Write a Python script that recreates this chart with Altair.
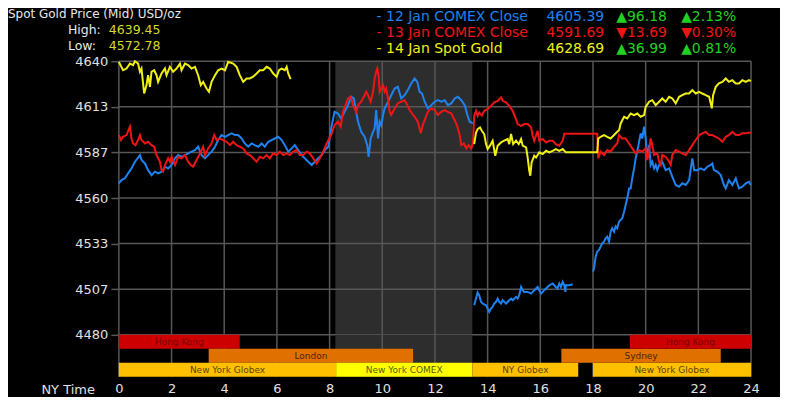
import altair as alt
import pandas as pd

# ---------------- data ----------------
# 12 Jan COMEX Close (blue) - three segments
blue1_t = [0, 0.10, 0.23, 0.35, 0.48, 0.61, 0.71, 0.80, 0.86, 0.99, 1.11, 1.24, 1.37, 1.49, 1.62, 1.75, 1.87, 2.00,
           2.13, 2.25, 2.38, 2.51, 2.63, 2.76, 2.89, 3.01, 3.14, 3.27, 3.39, 3.52, 3.65, 3.77, 3.90, 4.03, 4.15, 4.28,
           4.41, 4.53, 4.66, 4.78, 4.91, 5.04, 5.16, 5.29, 5.42, 5.54, 5.67, 5.80, 5.92, 6.05, 6.18, 6.30, 6.43, 6.56,
           6.68, 6.81, 6.94, 7.06, 7.19, 7.32, 7.44, 7.57, 7.70, 7.82, 7.95,
           8.06, 8.19, 8.32, 8.44, 8.57, 8.70, 8.82, 8.92, 9.01, 9.08, 9.20, 9.33, 9.43, 9.48, 9.56, 9.65, 9.71, 9.77,
           9.84, 9.90, 9.96, 10.03, 10.09, 10.22, 10.34, 10.47, 10.59, 10.72, 10.85, 10.97, 11.10, 11.23, 11.33, 11.42,
           11.51, 11.61, 11.73, 11.86, 11.99, 12.11, 12.24, 12.37, 12.49, 12.62, 12.75, 12.87, 13.00, 13.13, 13.23,
           13.32, 13.44]
blue1_p = [4568.6, 4570.5, 4571.5, 4574.4, 4577.3, 4581.2, 4583.2, 4585.1, 4582.2, 4580.2, 4576.3, 4573.4, 4575.4,
           4574.4, 4575.4, 4578.3, 4577.3, 4579.3, 4583.2, 4585.1, 4584.1, 4585.1, 4586.1, 4587.1, 4588.0, 4590.0,
           4585.1, 4583.2, 4585.1, 4587.1, 4590.0, 4593.9, 4596.8, 4595.8, 4596.8, 4597.8, 4596.8, 4596.8, 4594.8,
           4591.9, 4590.0, 4591.9, 4590.9, 4590.0, 4591.9, 4590.0, 4592.9, 4593.9, 4594.8, 4595.8, 4593.9, 4590.9,
           4587.1, 4589.0, 4590.9, 4588.0, 4585.1, 4583.2, 4581.2, 4579.3, 4581.2, 4583.2, 4585.1, 4588.0, 4590.0,
           4600.7, 4610.4, 4609.4, 4606.5, 4610.4, 4614.3, 4619.2, 4618.2, 4610.4, 4604.6, 4598.7, 4595.8, 4590.9,
           4584.1, 4594.8, 4598.7, 4600.7, 4611.4, 4594.8, 4604.6, 4602.6, 4608.5, 4612.4, 4616.3, 4620.1, 4624.0,
           4625.0, 4618.2, 4620.1, 4623.1, 4627.0, 4629.9, 4627.9, 4622.1, 4621.1, 4616.3, 4612.4, 4614.3, 4616.3,
           4617.2, 4616.3, 4617.2, 4614.3, 4615.3, 4618.2, 4619.2, 4617.2, 4614.3, 4608.5, 4604.6, 4603.6]
blue2_t = [13.49, 13.56, 13.62, 13.68, 13.75, 13.81, 13.94, 14.06, 14.13, 14.19, 14.25, 14.32, 14.38, 14.44, 14.51,
           14.57, 14.63, 14.70, 14.82, 14.89, 14.95, 15.08, 15.14, 15.20, 15.27, 15.33, 15.39, 15.52, 15.65, 15.71,
           15.84, 15.90, 15.96, 16.03, 16.09, 16.15, 16.22, 16.34, 16.47, 16.59, 16.65, 16.72, 16.78, 16.85, 16.91,
           16.95, 16.97, 17.10, 17.23]
blue2_p = [4497.3, 4501.2, 4504.7, 4503.2, 4499.3, 4498.3, 4497.3, 4493.4, 4495.4, 4496.4, 4498.3, 4499.3, 4501.2,
           4499.3, 4498.3, 4500.2, 4499.3, 4498.3, 4500.2, 4501.2, 4500.2, 4502.2, 4501.2, 4503.2, 4508.0, 4506.1,
           4505.1, 4505.1, 4504.1, 4505.1, 4507.1, 4508.0, 4506.1, 4504.1, 4505.1, 4506.1, 4507.1, 4509.0, 4510.0,
           4508.0, 4507.1, 4510.0, 4508.0, 4511.0, 4509.0, 4505.1, 4509.0, 4509.0, 4509.6]
blue3_t = [18.00, 18.04, 18.10, 18.16, 18.23, 18.29, 18.35, 18.42, 18.48, 18.54, 18.61, 18.67, 18.73, 18.80, 18.86,
           18.92, 18.99, 19.05, 19.11, 19.18, 19.24, 19.30, 19.37, 19.43, 19.49, 19.56, 19.62, 19.68, 19.75, 19.81,
           19.87, 19.94, 20.00, 20.06, 20.13, 20.19, 20.25, 20.32, 20.38, 20.44, 20.51, 20.63, 20.76, 20.89, 21.01,
           21.14, 21.27, 21.39, 21.52, 21.65, 21.77, 21.84, 21.96, 22.09, 22.22, 22.34, 22.47, 22.53, 22.59, 22.72,
           22.85, 22.97, 23.04, 23.16, 23.29, 23.42, 23.54, 23.67, 23.80, 23.92, 23.99]
blue3_p = [4517.0, 4518.9, 4525.7, 4528.7, 4529.6, 4531.6, 4533.5, 4534.5, 4536.4, 4537.4, 4534.5, 4540.3, 4542.3,
           4540.3, 4543.3, 4542.3, 4546.2, 4547.2, 4548.1, 4552.0, 4555.9, 4559.8, 4565.6, 4565.6, 4571.5, 4577.3,
           4583.2, 4587.1, 4592.9, 4597.8, 4594.8, 4601.7, 4594.8, 4583.2, 4591.0, 4579.3, 4581.2, 4577.3, 4579.3,
           4576.3, 4579.3, 4581.2, 4576.3, 4577.3, 4572.5, 4567.6, 4566.6, 4568.6, 4567.6, 4570.5, 4583.2, 4576.3,
           4576.3, 4577.3, 4576.3, 4578.3, 4579.3, 4580.2, 4576.3, 4575.4, 4573.4, 4567.6, 4565.6, 4570.5, 4567.6,
           4571.5, 4565.6, 4566.6, 4568.6, 4569.5, 4567.6]

# 13 Jan COMEX Close (red) - continuous
red_t = [0, 0.08, 0.16, 0.29, 0.42, 0.48, 0.54, 0.63, 0.73, 0.80, 0.86, 0.99, 1.11, 1.24, 1.34, 1.43, 1.56, 1.62,
         1.68, 1.75, 1.87, 1.94, 2.00, 2.13, 2.25, 2.38, 2.51, 2.63, 2.73, 2.82, 2.95, 3.08, 3.20, 3.27, 3.39, 3.52,
         3.62, 3.71, 3.84, 3.96, 4.09, 4.22, 4.34, 4.47, 4.59, 4.72, 4.85, 4.97, 5.10, 5.23, 5.35, 5.48, 5.61, 5.73,
         5.86, 5.99, 6.11, 6.24, 6.37, 6.49, 6.62, 6.75, 6.87, 7.00, 7.13, 7.25, 7.38, 7.51, 7.63, 7.76, 7.89,
         8.06, 8.19, 8.32, 8.42, 8.51, 8.63, 8.70, 8.80, 8.89, 9.01, 9.08, 9.20, 9.30, 9.39, 9.46, 9.56, 9.65, 9.71,
         9.77, 9.81, 9.86, 9.90, 9.96, 10.03, 10.09, 10.15, 10.22, 10.28, 10.34, 10.47, 10.59, 10.72, 10.85, 10.95,
         11.04, 11.13, 11.23, 11.35, 11.46, 11.54, 11.61, 11.73, 11.86, 11.99, 12.11, 12.24, 12.37, 12.49, 12.62,
         12.75, 12.85, 12.94, 13.00, 13.10, 13.19, 13.28, 13.38, 13.44,
         13.49, 13.56, 13.62, 13.68, 13.78, 13.87, 14.00, 14.13, 14.25, 14.38, 14.51, 14.57, 14.70, 14.82, 14.95,
         15.05, 15.14, 15.27, 15.39, 15.52, 15.65, 15.71, 15.77, 15.90, 15.96, 16.09, 16.22, 16.34, 16.47, 16.59,
         16.72, 16.85, 16.91, 18.16,
         18.20, 18.29, 18.42, 18.54, 18.67, 18.80, 18.92, 18.99, 19.11, 19.24, 19.37, 19.49, 19.62, 19.75, 19.87,
         20.00, 20.06, 20.13, 20.19, 20.25, 20.32, 20.44, 20.51, 20.57, 20.63, 20.76, 20.89, 20.95, 21.01, 21.14,
         21.27, 21.39, 21.52, 21.65, 21.77, 21.90, 22.03, 22.15, 22.28, 22.41, 22.53, 22.66, 22.78, 22.91, 23.04,
         23.16, 23.29, 23.42, 23.54, 23.67, 23.80, 23.92, 24.00]
red_p = [4596.8, 4593.9, 4595.8, 4596.8, 4601.7, 4594.8, 4591.9, 4590.9, 4593.9, 4596.8, 4593.9, 4591.9, 4592.9,
         4590.9, 4590.0, 4585.1, 4581.2, 4576.3, 4575.4, 4579.3, 4583.2, 4581.2, 4584.1, 4579.3, 4584.1, 4583.2,
         4585.1, 4581.2, 4579.3, 4578.3, 4582.2, 4586.1, 4590.0, 4585.1, 4589.0, 4591.9, 4596.8, 4593.9, 4594.8,
         4593.9, 4592.9, 4590.9, 4592.9, 4590.9, 4590.0, 4589.0, 4586.1, 4585.1, 4583.2, 4581.2, 4584.1, 4583.2,
         4585.1, 4583.2, 4586.1, 4585.1, 4587.1, 4585.1, 4586.1, 4585.1, 4587.1, 4588.0, 4585.1, 4585.1, 4587.1,
         4586.1, 4583.2, 4580.2, 4583.2, 4587.1, 4591.9,
         4596.8, 4602.6, 4604.6, 4601.7, 4610.4, 4615.3, 4618.2, 4619.2, 4614.3, 4610.4, 4614.3, 4616.3, 4619.2,
         4622.1, 4620.1, 4616.3, 4622.1, 4629.9, 4633.8, 4635.7, 4631.8, 4622.1, 4624.0, 4626.0, 4622.1, 4624.0,
         4618.2, 4610.4, 4608.5, 4612.4, 4615.3, 4616.3, 4617.2, 4614.3, 4611.4, 4609.4, 4607.5, 4604.6, 4597.8,
         4602.6, 4605.5, 4610.4, 4612.4, 4611.4, 4608.5, 4610.4, 4611.4, 4610.4, 4609.4, 4605.5, 4601.7, 4596.8,
         4590.9, 4591.9, 4589.0, 4590.9, 4589.0, 4591.9,
         4608.1, 4611.0, 4608.1, 4610.0, 4608.1, 4611.0, 4612.0, 4613.9, 4615.9, 4616.8, 4618.8, 4616.8, 4615.9,
         4613.9, 4611.0, 4607.1, 4603.2, 4602.2, 4603.2, 4603.2, 4601.3, 4596.4, 4593.5, 4599.3, 4593.5, 4594.5,
         4592.5, 4593.5, 4593.5, 4591.5, 4590.6, 4593.5, 4597.6, 4597.6,
         4583.2, 4587.1, 4585.1, 4588.0, 4587.1, 4590.0, 4591.9, 4596.8, 4594.8, 4594.8, 4591.9, 4589.0, 4586.1,
         4588.0, 4587.1, 4589.0, 4582.2, 4587.1, 4594.8, 4590.9, 4585.1, 4586.1, 4581.2, 4579.3, 4585.1, 4584.1,
         4581.2, 4579.3, 4585.1, 4588.0, 4587.1, 4586.1, 4585.1, 4588.0, 4590.9, 4593.9, 4596.8, 4597.8, 4598.7,
         4596.8, 4596.8, 4595.8, 4594.8, 4592.9, 4595.8, 4596.8, 4598.7, 4596.8, 4596.8, 4597.8, 4597.8, 4598.3,
         4597.8]

# 14 Jan Spot Gold (yellow) - two segments
yellow1_t = [0, 0.16, 0.29, 0.42, 0.54, 0.61, 0.73, 0.80, 0.86, 0.96, 1.05, 1.11, 1.18, 1.24, 1.34, 1.43, 1.49,
             1.62, 1.75, 1.81, 1.94, 2.06, 2.19, 2.32, 2.38, 2.51, 2.63, 2.76, 2.89, 3.01, 3.11, 3.20, 3.33, 3.42,
             3.52, 3.65, 3.77, 3.90, 4.03, 4.15, 4.34, 4.47, 4.59, 4.72, 4.85, 4.97, 5.10, 5.23, 5.35, 5.48, 5.61,
             5.73, 5.86, 5.99, 6.08, 6.18, 6.30, 6.37, 6.43, 6.52]
yellow1_p = [4639.6, 4634.7, 4635.7, 4638.6, 4637.7, 4640.0, 4638.6, 4633.8, 4635.7, 4621.1, 4626.0, 4631.8, 4625.0,
             4633.8, 4634.7, 4631.8, 4627.9, 4632.8, 4635.7, 4631.8, 4636.7, 4633.8, 4635.7, 4638.6, 4634.7, 4638.6,
             4637.7, 4635.7, 4636.7, 4631.8, 4626.0, 4627.9, 4624.0, 4622.1, 4627.9, 4631.8, 4634.7, 4635.7, 4634.7,
             4639.6, 4638.6, 4636.7, 4631.8, 4627.9, 4629.9, 4629.9, 4630.9, 4632.8, 4634.7, 4634.7, 4636.7, 4635.7,
             4632.8, 4630.9, 4634.7, 4635.7, 4634.7, 4636.7, 4632.8, 4629.5]
yellow2_t = [13.49, 13.56, 13.62, 13.71, 13.78, 13.87, 13.94, 14.00, 14.09, 14.19, 14.29, 14.38, 14.51, 14.63, 14.76,
             14.82, 14.89, 14.97, 15.08, 15.18, 15.27, 15.33, 15.46, 15.52, 15.58, 15.62, 15.67, 15.77, 15.84, 15.96,
             16.09, 16.22, 16.34, 16.47, 16.59, 16.72, 16.85, 16.97, 18.16,
             18.20, 18.29, 18.42, 18.54, 18.67, 18.80, 18.92, 18.99, 19.05, 19.18, 19.30, 19.43, 19.56, 19.68, 19.81,
             19.94, 20.00, 20.13, 20.25, 20.38, 20.51, 20.63, 20.76, 20.89, 21.01, 21.14, 21.27, 21.39, 21.52, 21.65,
             21.77, 21.90, 22.03, 22.15, 22.28, 22.41, 22.47, 22.51, 22.56, 22.66, 22.78, 22.91, 23.04, 23.16, 23.29,
             23.42, 23.54, 23.67, 23.80, 23.92, 23.99]
yellow2_p = [4591.5, 4598.3, 4600.3, 4601.3, 4599.3, 4597.4, 4591.5, 4588.6, 4590.6, 4593.5, 4584.7, 4590.6, 4592.5,
             4593.5, 4594.5, 4591.5, 4597.4, 4591.5, 4593.5, 4591.5, 4594.5, 4590.6, 4589.6, 4583.7, 4576.0, 4573.0,
             4580.8, 4584.7, 4583.7, 4586.7, 4585.7, 4587.6, 4586.7, 4587.6, 4588.6, 4587.6, 4588.6, 4586.7, 4586.7,
             4594.8, 4595.8, 4596.8, 4595.8, 4594.8, 4596.8, 4598.7, 4599.7, 4603.6, 4607.5, 4606.5, 4609.4, 4608.5,
             4609.4, 4607.5, 4608.5, 4613.3, 4616.3, 4617.2, 4614.3, 4616.3, 4618.2, 4616.3, 4619.2, 4618.2, 4615.3,
             4619.2, 4620.1, 4621.1, 4621.1, 4623.1, 4621.1, 4622.1, 4621.1, 4620.1, 4619.2, 4615.3, 4612.4, 4620.1,
             4625.0, 4627.0, 4627.9, 4629.9, 4627.9, 4628.9, 4627.0, 4627.0, 4628.9, 4627.9, 4628.9, 4628.3]

# trading sessions
session_names = ["Hong Kong", "London", "New York Globex", "New York COMEX", "NY Globex", "New York Globex",
                 "Sydney", "Hong Kong"]
session_start = [0, 3.41, 0, 8.25, 13.42, 18.0, 16.8, 19.4]
session_end = [4.59, 11.17, 8.25, 13.42, 17.44, 24, 22.85, 24]
session_row = ["a", "b", "c", "c", "c", "c", "b", "a"]
session_fill = ["#CC0000", "#E07000", "#FFC000", "#FFFF00", "#FFC000", "#FFC000", "#E07000", "#CC0000"]
session_ink = ["#7A0000", "#4A2500", "#5A4200", "#5A5A00", "#5A4200", "#5A4200", "#4A2500", "#7A0000"]

comex_hours = [8.22, 13.42]
x_ticks = [0, 2, 4, 6, 8, 10, 12, 14, 16, 18, 20, 22, 24]
y_ticks = [4480, 4506.67, 4533.33, 4560, 4586.67, 4613.33, 4640]

# ---------------- chart ----------------
W, H_TOP, H_BOT = 633, 274, 42
FONT = "DejaVu Sans"
GRID = "#575757"
BLUE, RED, YELLOW = "#1E82F0", "#F01414", "#F0F014"
GREEN = "#22D022"
LABEL = "#E0E0E0"


def seg(name, segid, ts, ps):
    return pd.DataFrame({"series": name, "seg": segid, "t": ts, "price": ps})


blue_df = pd.concat([seg("12 Jan", "b1", blue1_t, blue1_p), seg("12 Jan", "b2", blue2_t, blue2_p),
                     seg("12 Jan", "b3", blue3_t, blue3_p)])
red_df = seg("13 Jan", "r1", red_t, red_p)
yellow_df = pd.concat([seg("14 Jan", "y1", yellow1_t, yellow1_p), seg("14 Jan", "y2", yellow2_t, yellow2_p)])

xscale = alt.Scale(domain=[0, 24], nice=False, zero=False)
yscale = alt.Scale(domain=[4480, 4640], nice=False, zero=False)

x_axis = alt.Axis(values=x_ticks, title=None, grid=False, ticks=False, domain=False, labelPadding=6,
                  labelFlush=False, labelFont=FONT, labelFontSize=13, labelColor=LABEL)
y_axis = alt.Axis(values=y_ticks, format=".0f", title=None, grid=False, domain=False, tickSize=8,
                  tickColor=GRID, tickWidth=1.5, labelPadding=3, labelFlush=False, labelFont=FONT,
                  labelFontSize=13, labelColor=LABEL)

shade_df = pd.DataFrame({"s": [comex_hours[0]], "e": [comex_hours[1]]})
xgrid_df = pd.DataFrame({"t": x_ticks})
ygrid_df = pd.DataFrame({"p": y_ticks})


def shade(axis):
    return alt.Chart(shade_df).mark_rect(color="#2D2D2D").encode(
        x=alt.X("s:Q", scale=xscale, axis=axis), x2="e:Q")


def vgrid(axis):
    return alt.Chart(xgrid_df).mark_rule(color=GRID, strokeWidth=1.5).encode(
        x=alt.X("t:Q", scale=xscale, axis=axis))


hgrid = alt.Chart(ygrid_df).mark_rule(color=GRID, strokeWidth=1.5).encode(
    y=alt.Y("p:Q", scale=yscale, axis=y_axis))


def line(df, color):
    return alt.Chart(df).mark_line(color=color, strokeWidth=2).encode(
        x=alt.X("t:Q", scale=xscale, axis=None),
        y=alt.Y("price:Q", scale=yscale, axis=y_axis),
        detail="seg:N", order="t:Q")


one = pd.DataFrame({"k": [0]})


def label(text, x, y, color, size=12, align="left"):
    return alt.Chart(one).mark_text(font=FONT, fontSize=size, align=align, baseline="middle",
                                    color=color).encode(x=alt.value(x), y=alt.value(y), text=alt.value(text))


annotations = [
    label("Spot Gold Price (Mid) USD/oz", -111, -47, "#E8E8E8", 12),
    label("High:", -51, -31, "#E8E8E8", 12.5),
    label("4639.45", -10, -31, "#D8D828", 12.5),
    label("Low:", -51, -15, "#E8E8E8", 12.5),
    label("4572.78", -10, -15, "#D8D828", 12.5),
    label("- 12 Jan COMEX Close", 258, -44, BLUE, 14),
    label("4605.39", 486, -44, BLUE, 14, "right"),
    label("▲96.18", 498, -44, GREEN, 14),
    label("▲2.13%", 563, -44, GREEN, 14),
    label("- 13 Jan COMEX Close", 258, -28, RED, 14),
    label("4591.69", 486, -28, RED, 14, "right"),
    label("▼13.69", 498, -28, RED, 14),
    label("▼0.30%", 563, -28, RED, 14),
    label("- 14 Jan Spot Gold", 258, -12, YELLOW, 14),
    label("4628.69", 486, -12, YELLOW, 14, "right"),
    label("▲36.99", 498, -12, GREEN, 14),
    label("▲0.81%", 563, -12, GREEN, 14),
]

top = alt.layer(shade(None), vgrid(None), hgrid, line(blue_df, BLUE), line(red_df, RED),
                line(yellow_df, YELLOW), *annotations).properties(width=W, height=H_TOP)

sess_df = pd.DataFrame({"name": session_names, "start": session_start, "end": session_end,
                        "row": session_row, "fill": session_fill, "ink": session_ink})
row_scale = alt.Scale(domain=["a", "b", "c"], paddingInner=0, paddingOuter=0)
bars = alt.Chart(sess_df).mark_rect().encode(
    x=alt.X("start:Q", scale=xscale, axis=x_axis), x2="end:Q",
    y=alt.Y("row:N", scale=row_scale, axis=None),
    color=alt.Color("fill:N", scale=None))
bar_text = alt.Chart(sess_df).transform_calculate(mid="(datum.start + datum.end) / 2").mark_text(
    font=FONT, fontSize=9, baseline="middle", align="center").encode(
    x=alt.X("mid:Q", scale=xscale, axis=x_axis),
    y=alt.Y("row:N", scale=row_scale, axis=None, bandPosition=0.5),
    text="name:N", color=alt.Color("ink:N", scale=None))

bottom = alt.layer(shade(x_axis), vgrid(x_axis), bars, bar_text,
                   label("NY Time", -24, H_BOT + 13, LABEL, 13, "right")).properties(width=W, height=H_BOT)

chart = alt.vconcat(top, bottom, spacing=0, bounds="flush").properties(
    padding={"left": 0, "top": 0, "right": 20, "bottom": 0},
    background="#000000",
).configure_view(stroke=None)

chart.save("out.html", embed_options={"renderer": "svg", "actions": False})
